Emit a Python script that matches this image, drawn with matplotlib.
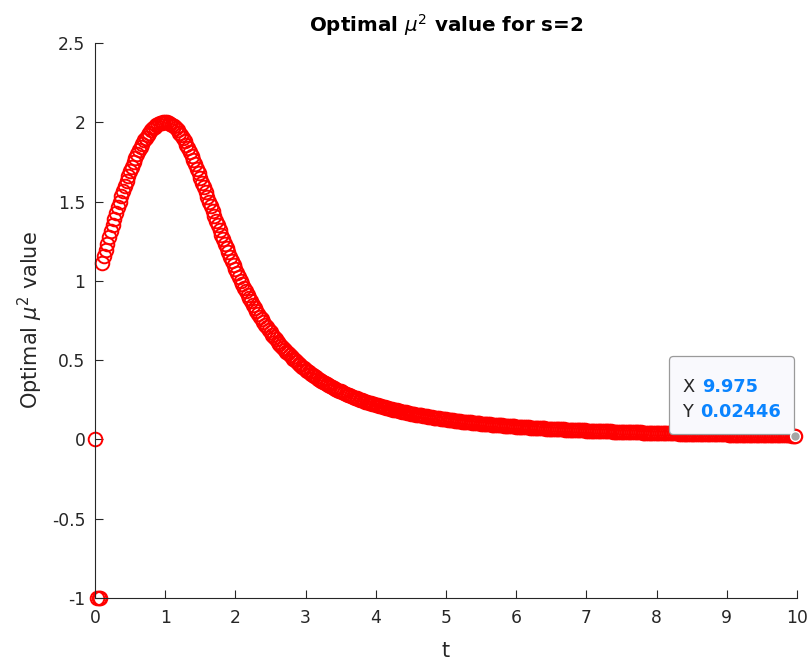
import numpy as np
import matplotlib
matplotlib.use('Agg')
import matplotlib.pyplot as plt
from matplotlib.offsetbox import TextArea, HPacker, VPacker, AnnotationBbox, DrawingArea

# optimal mu^2 values, sampled every 0.025 in t (t = 0 ... 9.975)
t_step = 0.025
mu2 = [
    0, -1, -1, -1,
    # t = 0.1 .. 1.0
    1.114, 1.155, 1.195, 1.235, 1.274, 1.313, 1.352, 1.390, 1.427, 1.463,
    1.499, 1.533, 1.567, 1.600, 1.632, 1.663, 1.692, 1.721, 1.748, 1.775,
    1.799, 1.823, 1.845, 1.866, 1.886, 1.904, 1.920, 1.935, 1.949, 1.961,
    1.971, 1.980, 1.987, 1.993, 1.997, 1.999, 2.000,
    # t = 1.025 .. 2.0
    1.999, 1.996, 1.991, 1.983, 1.974, 1.963, 1.949, 1.934, 1.918, 1.899,
    1.880, 1.858, 1.836, 1.812, 1.787, 1.761, 1.734, 1.706, 1.678, 1.649,
    1.620, 1.591, 1.561, 1.531, 1.500, 1.470, 1.440, 1.410, 1.380, 1.351,
    1.321, 1.292, 1.264, 1.235, 1.207, 1.180, 1.153, 1.127, 1.101, 1.075,
    # t = 2.025 .. 3.0
    1.050, 1.026, 1.002, 0.979, 0.956, 0.934, 0.912, 0.891, 0.870, 0.850,
    0.830, 0.811, 0.792, 0.774, 0.757, 0.739, 0.723, 0.706, 0.690, 0.675,
    0.660, 0.645, 0.631, 0.617, 0.604, 0.591, 0.578, 0.566, 0.554, 0.542,
    0.530, 0.519, 0.509, 0.498, 0.488, 0.478, 0.468, 0.459, 0.450, 0.441,
    # t = 3.025 .. 4.0
    0.432, 0.423, 0.415, 0.407, 0.399, 0.391, 0.384, 0.377, 0.370, 0.363,
    0.356, 0.350, 0.343, 0.337, 0.331, 0.325, 0.319, 0.313, 0.308, 0.303,
    0.298, 0.292, 0.287, 0.282, 0.278, 0.273, 0.268, 0.264, 0.259, 0.256,
    0.251, 0.247, 0.243, 0.239, 0.236, 0.232, 0.228, 0.225, 0.221, 0.218,
    # t = 4.025 .. 5.0
    0.215, 0.211, 0.208, 0.205, 0.202, 0.199, 0.196, 0.193, 0.191, 0.188,
    0.185, 0.183, 0.180, 0.177, 0.175, 0.173, 0.170, 0.168, 0.166, 0.163,
    0.161, 0.159, 0.157, 0.155, 0.153, 0.151, 0.149, 0.147, 0.145, 0.143,
    0.141, 0.139, 0.138, 0.136, 0.134, 0.133, 0.131, 0.129, 0.128, 0.126,
    # t = 5.025 .. 6.0
    0.125, 0.123, 0.122, 0.120, 0.119, 0.118, 0.116, 0.115, 0.113, 0.112,
    0.111, 0.110, 0.108, 0.107, 0.106, 0.105, 0.104, 0.102, 0.101, 0.100,
    0.099, 0.098, 0.097, 0.096, 0.095, 0.094, 0.093, 0.092, 0.091, 0.090,
    0.089, 0.088, 0.087, 0.086, 0.085, 0.085, 0.084, 0.083, 0.082, 0.081,
    # t = 6.025 .. 7.0
    0.0804, 0.0796, 0.0788, 0.0780, 0.0772, 0.0765, 0.0758, 0.0750, 0.0743, 0.0736,
    0.0729, 0.0722, 0.0716, 0.0709, 0.0702, 0.0696, 0.0689, 0.0683, 0.0676, 0.0670,
    0.0664, 0.0658, 0.0653, 0.0647, 0.0641, 0.0636, 0.0630, 0.0624, 0.0619, 0.0613,
    0.0608, 0.0603, 0.0598, 0.0592, 0.0587, 0.0582, 0.0577, 0.0572, 0.0567, 0.0562,
    # t = 7.025 .. 8.0
    0.0558, 0.0553, 0.0549, 0.0544, 0.0540, 0.0535, 0.0531, 0.0526, 0.0522, 0.0517,
    0.0513, 0.0509, 0.0505, 0.0501, 0.0497, 0.0494, 0.0490, 0.0486, 0.0482, 0.0478,
    0.0474, 0.0471, 0.0467, 0.0464, 0.0460, 0.0456, 0.0453, 0.0449, 0.0446, 0.0442,
    0.0439, 0.0436, 0.0432, 0.0429, 0.0426, 0.0423, 0.0420, 0.0416, 0.0413, 0.0410,
    # t = 8.025 .. 9.0
    0.0407, 0.0404, 0.0402, 0.0399, 0.0396, 0.0393, 0.0390, 0.0388, 0.0385, 0.0382,
    0.0379, 0.0377, 0.0374, 0.0372, 0.0369, 0.0366, 0.0364, 0.0361, 0.0359, 0.0356,
    0.0354, 0.0351, 0.0349, 0.0347, 0.0345, 0.0342, 0.0340, 0.0338, 0.0335, 0.0333,
    0.0331, 0.0329, 0.0327, 0.0325, 0.0323, 0.0320, 0.0318, 0.0316, 0.0314, 0.0312,
    # t = 9.025 .. 9.975
    0.0310, 0.0308, 0.0306, 0.0304, 0.0302, 0.0301, 0.0299, 0.0297, 0.0295, 0.0293,
    0.0291, 0.0289, 0.0288, 0.0286, 0.0284, 0.0282, 0.0280, 0.0279, 0.0277, 0.0275,
    0.0273, 0.0272, 0.0270, 0.0269, 0.0267, 0.0265, 0.0264, 0.0262, 0.0261, 0.0259,
    0.0257, 0.0256, 0.0254, 0.0253, 0.0251, 0.0249, 0.0248, 0.0246, 0.02446,
]
t = np.arange(len(mu2)) * t_step

# data tip shown on the last point
tip_x = 9.975
tip_y = 0.02446

x_ticks = [0, 1, 2, 3, 4, 5, 6, 7, 8, 9, 10]
y_ticks = [-1, -0.5, 0, 0.5, 1, 1.5, 2, 2.5]
y_labels = ['-1', '-0.5', '0', '0.5', '1', '1.5', '2', '2.5']

dark = '#262626'

fig = plt.figure(figsize=(8.1, 6.66), dpi=100)
ax = fig.add_axes([0.1173, 0.1021, 0.8667, 0.8333])

ax.plot(t, mu2, 'o', mfc='none', mec='red', ms=9.8, mew=1.4, clip_on=False)

ax.set_xlim(0, 10)
ax.set_ylim(-1, 2.5)
ax.set_xticks(x_ticks)
ax.set_xticklabels([str(v) for v in x_ticks])
ax.set_yticks(y_ticks)
ax.set_yticklabels(y_labels)

ax.spines['top'].set_visible(False)
ax.spines['right'].set_visible(False)
for side in ['left', 'bottom']:
    ax.spines[side].set_color(dark)
    ax.spines[side].set_linewidth(0.8)
ax.tick_params(direction='in', length=5.5, width=0.8, colors=dark, labelsize=12.3)
ax.tick_params(axis='y', pad=7)
ax.tick_params(axis='x', pad=8)

ax.set_title(r'Optimal $\mu^2$ value for s=2', fontsize=14.3, fontweight='bold', pad=8)
ax.set_xlabel('t', fontsize=15, color=dark, labelpad=10)
ax.set_ylabel(r'Optimal $\mu^2$ value', fontsize=15, color=dark, labelpad=5)

# data tip box
def tip_row(name, value):
    return HPacker(children=[
        TextArea(name, textprops=dict(color=dark, size=12.8)),
        TextArea(value, textprops=dict(color='#0a84ff', size=12.8, weight='bold')),
    ], sep=5.5, align='baseline')

tip_box = VPacker(children=[DrawingArea(0, 1), tip_row('X', '9.975'),
                            tip_row('Y', '0.02446')],
                  sep=5.5, pad=9, align='left')
ab = AnnotationBbox(tip_box, (tip_x, tip_y), xycoords='data',
                    xybox=(-1.2, 1.3), boxcoords='offset points',
                    box_alignment=(1, 0), pad=0, frameon=True,
                    bboxprops=dict(boxstyle='round,pad=0,rounding_size=0.25',
                                   fc='#f9f9fd', ec='#9a9a9a', lw=0.9))
ax.add_artist(ab)
ax.plot(tip_x, tip_y, 'o', ms=7, mfc='#a5a5a5', mec='white', mew=1,
        clip_on=False, zorder=5)

fig.savefig('out.png', dpi=100)
